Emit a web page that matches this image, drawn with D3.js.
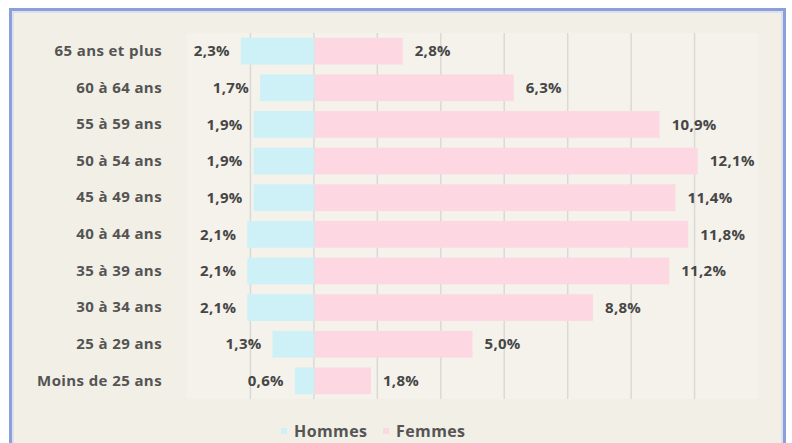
<!DOCTYPE html>
<html>
<head>
<meta charset="utf-8">
<script src="https://cdn.jsdelivr.net/npm/d3@7"></script>
<style>
  body { margin: 0; background: #fff; }
  svg { display: block; font-family: "Open Sans", sans-serif; }
</style>
</head>
<body>
<div id="chart-area"></div>
<script>
// categories, top to bottom
var ages = ["65 ans et plus", "60 à 64 ans", "55 à 59 ans", "50 à 54 ans", "45 à 49 ans",
            "40 à 44 ans", "35 à 39 ans", "30 à 34 ans", "25 à 29 ans", "Moins de 25 ans"];
var hommes = [2.3, 1.7, 1.9, 1.9, 1.9, 2.1, 2.1, 2.1, 1.3, 0.6];
var femmes = [2.8, 6.3, 10.9, 12.1, 11.4, 11.8, 11.2, 8.8, 5.0, 1.8];
var gridTicks = [-2, 0, 2, 4, 6, 8, 10, 12];
var series = ["Hommes", "Femmes"];

var W = 792, H = 443;
var margin = {top: 33, left: 187, right: 34, bottom: 44};
var width = W - margin.left - margin.right,
    height = H - margin.top - margin.bottom;

var svg = d3.select("#chart-area")
  .append("svg")
  .attr("width", W)
  .attr("height", H);

// frame
svg.append("rect")
  .attr("x", 10.5).attr("y", 9.5)
  .attr("width", 774).attr("height", 440)
  .attr("fill", "#f2efe7")
  .attr("stroke", "#8b9fdc")
  .attr("stroke-width", 3);
svg.append("rect")
  .attr("x", 13).attr("y", 12)
  .attr("width", 769).attr("height", 440)
  .attr("fill", "none")
  .attr("stroke", "#c9d2ee")
  .attr("stroke-width", 1);

var g = svg.append("g")
  .attr("transform", `translate(${margin.left}, ${margin.top})`);

var x = d3.scaleLinear()
  .domain([-4, 14])
  .range([0, width]);

var y = d3.scaleBand()
  .domain(ages)
  .range([0, height])
  .paddingInner(0.27)
  .paddingOuter(0.13);

var color = d3.scaleOrdinal()
  .domain(series)
  .range(["#cdf1f6", "#fdd8e3"]);

// plot background
g.append("rect")
  .attr("width", width).attr("height", height)
  .attr("fill", "#f4f2eb");

// gridlines
g.append("g")
  .selectAll("line")
  .data(gridTicks)
  .enter()
  .append("line")
  .attr("x1", d => x(d)).attr("x2", d => x(d))
  .attr("y1", 0).attr("y2", height)
  .attr("stroke", "#d9d9d6")
  .attr("stroke-width", 1.5);

var rows = ages.map((a, i) => ({age: a, h: hommes[i], f: femmes[i]}));

// bars
g.append("g").selectAll("rect")
  .data(rows).enter().append("rect")
  .attr("x", d => x(-d.h))
  .attr("y", d => y(d.age))
  .attr("width", d => x(0) - x(-d.h))
  .attr("height", y.bandwidth())
  .attr("fill", color("Hommes"));

g.append("g").selectAll("rect")
  .data(rows).enter().append("rect")
  .attr("x", x(0) + 1)
  .attr("y", d => y(d.age))
  .attr("width", d => x(d.f) - x(0) - 1)
  .attr("height", y.bandwidth())
  .attr("fill", color("Femmes"));

var fmt = v => v.toFixed(1).replace(".", ",") + "%";

// value labels
g.append("g").selectAll("text")
  .data(rows).enter().append("text")
  .attr("x", d => x(-d.h) - 11)
  .attr("y", d => y(d.age) + y.bandwidth() / 2)
  .attr("dy", "0.35em")
  .attr("text-anchor", "end")
  .attr("font-size", "15px")
  .attr("font-weight", "bold")
  .attr("letter-spacing", "0.3px")
  .attr("fill", "#464646")
  .text(d => fmt(d.h));

g.append("g").selectAll("text")
  .data(rows).enter().append("text")
  .attr("x", d => x(d.f) + 12)
  .attr("y", d => y(d.age) + y.bandwidth() / 2)
  .attr("dy", "0.35em")
  .attr("font-size", "15px")
  .attr("font-weight", "bold")
  .attr("letter-spacing", "0.3px")
  .attr("fill", "#464646")
  .text(d => fmt(d.f));

// category axis
var yAxis = d3.axisLeft(y).tickSize(0).tickPadding(25);
var yAxisGroup = g.append("g").call(yAxis);
yAxisGroup.select(".domain").remove();
yAxisGroup.selectAll("text")
  .attr("font-family", "'Open Sans', sans-serif")
  .attr("font-size", "15px")
  .attr("font-weight", "bold")
  .attr("letter-spacing", "0.4px")
  .attr("fill", "#545454");

// legend
var legend = svg.append("g")
  .attr("transform", "translate(0, 431)");
var legX = [281, 383];
series.forEach((s, i) => {
  legend.append("rect")
    .attr("x", legX[i]).attr("y", -3)
    .attr("width", 6).attr("height", 6)
    .attr("fill", color(s));
  legend.append("text")
    .attr("x", legX[i] + 13)
    .attr("dy", "0.35em")
    .attr("font-size", "16px")
    .attr("font-weight", "bold")
    .attr("letter-spacing", "0.4px")
    .attr("fill", "#555")
    .text(s);
});
</script>
</body>
</html>
